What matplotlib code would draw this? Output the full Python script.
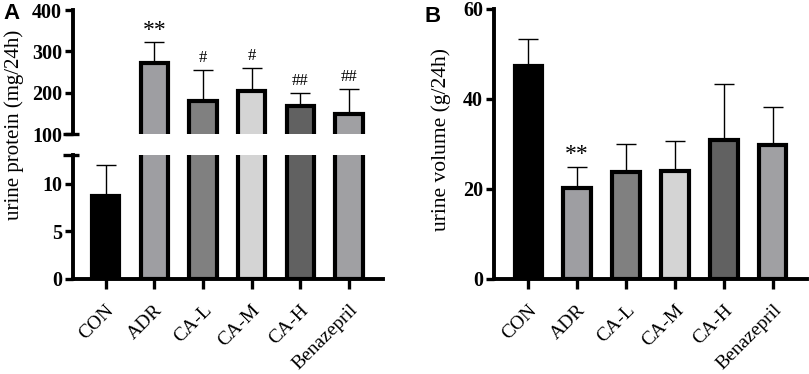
import matplotlib
matplotlib.use("Agg")
import matplotlib.pyplot as plt
from matplotlib.transforms import ScaledTranslation

plt.rcParams['font.family'] = ['Liberation Serif', 'DejaVu Serif']

groups = ['CON', 'ADR', 'CA-L', 'CA-M', 'CA-H', 'Benazepril']
colors = ['#000000', '#9e9ea2', '#808080', '#d4d4d4', '#616161', '#a0a0a3']

protein_mean = [8.65, 272, 181, 205, 168, 149]
protein_sd = [3.25, 50.6, 73, 55, 31, 60]
protein_marks = ['', '**', '#', '#', '##', '##']

volume_mean = [47.3, 20.2, 23.8, 24.1, 30.9, 29.8]
volume_sd = [6.1, 4.8, 6.3, 6.6, 12.4, 8.5]
volume_marks = ['', '**', '', '', '', '']

W, H = 809, 374
fig = plt.figure(figsize=(W / 100, H / 100), dpi=100)


def rect(l, t, r, b):
    return [l / W, 1 - b / H, (r - l) / W, (b - t) / H]


def style(ax, bottom=True):
    for s in ['top', 'right']:
        ax.spines[s].set_visible(False)
    ax.spines['left'].set_linewidth(2.8)
    ax.spines['bottom'].set_linewidth(2.8)
    ax.spines['bottom'].set_visible(bottom)
    ax.tick_params(axis='y', length=6, width=2.4, pad=2, labelsize=14.5)
    for lab in ax.get_yticklabels():
        lab.set_fontweight('bold')
    if bottom:
        ax.tick_params(axis='x', length=7.5, width=2.4, pad=3)
        ax.set_xticks(range(len(groups)))
        ax.set_xticklabels(groups, rotation=45, ha='right', va='top',
                           rotation_mode='anchor', fontsize=14)
        shift = ScaledTranslation(0, -8 / 100, fig.dpi_scale_trans)
        for lab in ax.get_xticklabels():
            lab.set_transform(lab.get_transform() + shift)
    else:
        ax.tick_params(axis='x', bottom=False, labelbottom=False)


def bars(ax, mean, sd):
    x = list(range(len(groups)))
    ax.errorbar(x, mean, yerr=[[0] * len(sd), sd], fmt='none', ecolor='black',
                elinewidth=1.0, capsize=7, capthick=1.0, zorder=1)
    ax.bar(x, mean, width=0.56, color=colors, edgecolor='black',
           linewidth=3, zorder=2)


def marks(ax, mean, sd, labels):
    for i, lab in enumerate(labels):
        if not lab:
            continue
        big = lab == '**'
        ax.annotate(lab, (i, mean[i] + sd[i]), xytext=(0, 1 if big else 3),
                    textcoords='offset points', ha='center', va='bottom',
                    fontsize=17 if big else 12, annotation_clip=False)


# Panel A: broken axis
ax_top = fig.add_axes(rect(73, 10, 383, 134))
ax_bot = fig.add_axes(rect(73, 155, 383, 279))
for ax in (ax_top, ax_bot):
    bars(ax, protein_mean, protein_sd)
    ax.set_xlim(-0.67, 5.7)
ax_top.set_ylim(100, 400)
ax_top.set_yticks([100, 200, 300, 400])
ax_bot.set_ylim(0, 13)
ax_bot.set_yticks([0, 5, 10])
style(ax_top, bottom=False)
style(ax_bot)
marks(ax_top, protein_mean, protein_sd, protein_marks)

# break markers
ax_top.plot([-0.032, 0.02], [0, 0], transform=ax_top.transAxes, color='black',
            lw=2.4, clip_on=False, solid_capstyle='butt')
ax_bot.plot([-0.032, 0.02], [1, 1], transform=ax_bot.transAxes, color='black',
            lw=2.4, clip_on=False, solid_capstyle='butt')

# Panel B
ax_b = fig.add_axes(rect(494, 9, 807, 279))
bars(ax_b, volume_mean, volume_sd)
ax_b.set_xlim(-0.7, 5.7)
ax_b.set_ylim(0, 60)
ax_b.set_yticks([0, 20, 40, 60])
style(ax_b)
marks(ax_b, volume_mean, volume_sd, volume_marks)

fig.text(14 / W, 1 - 125 / H, 'urine protein (mg/24h)', rotation=90,
         ha='center', va='center', fontsize=15)
fig.text(441 / W, 1 - 140 / H, 'urine volume (g/24h)', rotation=90,
         ha='center', va='center', fontsize=15.5)

fig.text(3 / W, 1 - 3 / H, 'A', ha='left', va='top', fontsize=16,
         fontweight='bold', family='Liberation Sans')
fig.text(424 / W, 1 - 6 / H, 'B', ha='left', va='top', fontsize=16,
         fontweight='bold', family='Liberation Sans')

fig.savefig('out.png', dpi=100)
